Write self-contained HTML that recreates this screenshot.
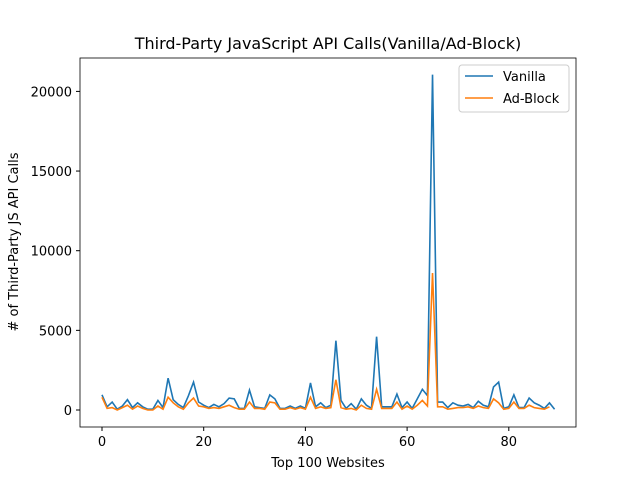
<!DOCTYPE html>
<html><head><meta charset="utf-8"><style>
body{margin:0;background:#fff;}
svg text{font-family:"DejaVu Sans","Liberation Sans",sans-serif;}
</style></head><body>
<svg id="chart" width="640" height="480" xmlns="http://www.w3.org/2000/svg">
<rect x="0" y="0" width="640" height="480" fill="#fff"/>
<text x="328" y="49" font-size="16" text-anchor="middle">Third-Party JavaScript API Calls(Vanilla/Ad-Block)</text>
<g id="ticks"></g>
<g id="lines"></g>
<rect x="80" y="58" width="496" height="369" fill="none" stroke="#000" stroke-width="0.8"/>
<text x="328" y="467" font-size="13" text-anchor="middle">Top 100 Websites</text>
<text transform="translate(18,242) rotate(-90)" font-size="13" text-anchor="middle"># of Third-Party JS API Calls</text>
<g>
<rect x="459" y="65" width="110" height="47" fill="#fff" stroke="#ccc" rx="3"/>
<line x1="465" y1="76" x2="493" y2="76" stroke="#1f77b4" stroke-width="1.5"/>
<text x="503" y="81" font-size="13">Vanilla</text>
<line x1="465" y1="98" x2="493" y2="98" stroke="#ff7f0e" stroke-width="1.5"/>
<text x="503" y="103" font-size="13">Ad-Block</text>
</g>
</svg>
<script>
const xTicks=[0,20,40,60,80];
const yTicks=[0,5000,10000,15000,20000];
const vanilla=[950,200,500,50,250,650,150,450,200,50,50,600,150,2000,650,350,150,900,1750,500,300,150,350,200,400,750,700,100,100,1250,200,150,100,950,700,100,100,250,100,250,100,1700,200,450,150,300,4350,600,100,400,50,700,300,100,4600,200,200,200,1000,150,500,100,700,1300,900,21050,500,500,150,450,300,250,350,150,550,300,200,1450,1750,100,200,950,150,150,750,450,300,100,450,50];
const adblock=[800,100,150,0,150,300,50,250,100,0,0,250,50,800,450,200,50,450,750,250,200,100,150,100,200,300,150,50,50,500,100,100,50,500,450,50,50,150,50,150,50,800,100,200,100,150,1900,150,50,100,0,300,100,50,1300,100,100,100,500,50,250,50,300,600,250,8600,200,200,50,100,150,150,200,100,250,150,100,700,450,50,100,500,100,100,300,150,100,50,200];
const NS="http://www.w3.org/2000/svg";
const xs=v=>102+v*5.085;
const ys=v=>410-v*0.01593;
const tg=document.getElementById('ticks');
xTicks.forEach(t=>{
  const l=document.createElementNS(NS,'line');
  l.setAttribute('x1',xs(t));l.setAttribute('x2',xs(t));l.setAttribute('y1',427);l.setAttribute('y2',431);l.setAttribute('stroke','#000');
  
  
  tg.appendChild(l);
  const s=document.createElementNS(NS,'text');
  s.setAttribute('x',xs(t));s.setAttribute('y',446);s.setAttribute('font-size','13');s.setAttribute('text-anchor','middle');
  s.textContent=t;
  
  
  tg.appendChild(s);
});
yTicks.forEach(t=>{
  const l=document.createElementNS(NS,'line');
  l.setAttribute('x1',76);l.setAttribute('x2',80);l.setAttribute('y1',ys(t));l.setAttribute('y2',ys(t));l.setAttribute('stroke','#000');
  
  
  tg.appendChild(l);
  const s=document.createElementNS(NS,'text');
  s.setAttribute('x',72);s.setAttribute('y',ys(t)+5);s.setAttribute('font-size','13');s.setAttribute('text-anchor','end');
  s.textContent=t;
  
  
  tg.appendChild(s);
});
const lg=document.getElementById('lines');
[[vanilla,'#1f77b4','vanilla-line'],[adblock,'#ff7f0e','adblock-line']].forEach(([d,c,n])=>{
  const p=document.createElementNS(NS,'polyline');
  p.setAttribute('points',d.map((v,i)=>xs(i)+','+ys(v)).join(' '));
  p.setAttribute('fill','none');p.setAttribute('stroke',c);p.setAttribute('stroke-width','1.6');
  
  
  lg.appendChild(p);
});
</script>
</body></html>
